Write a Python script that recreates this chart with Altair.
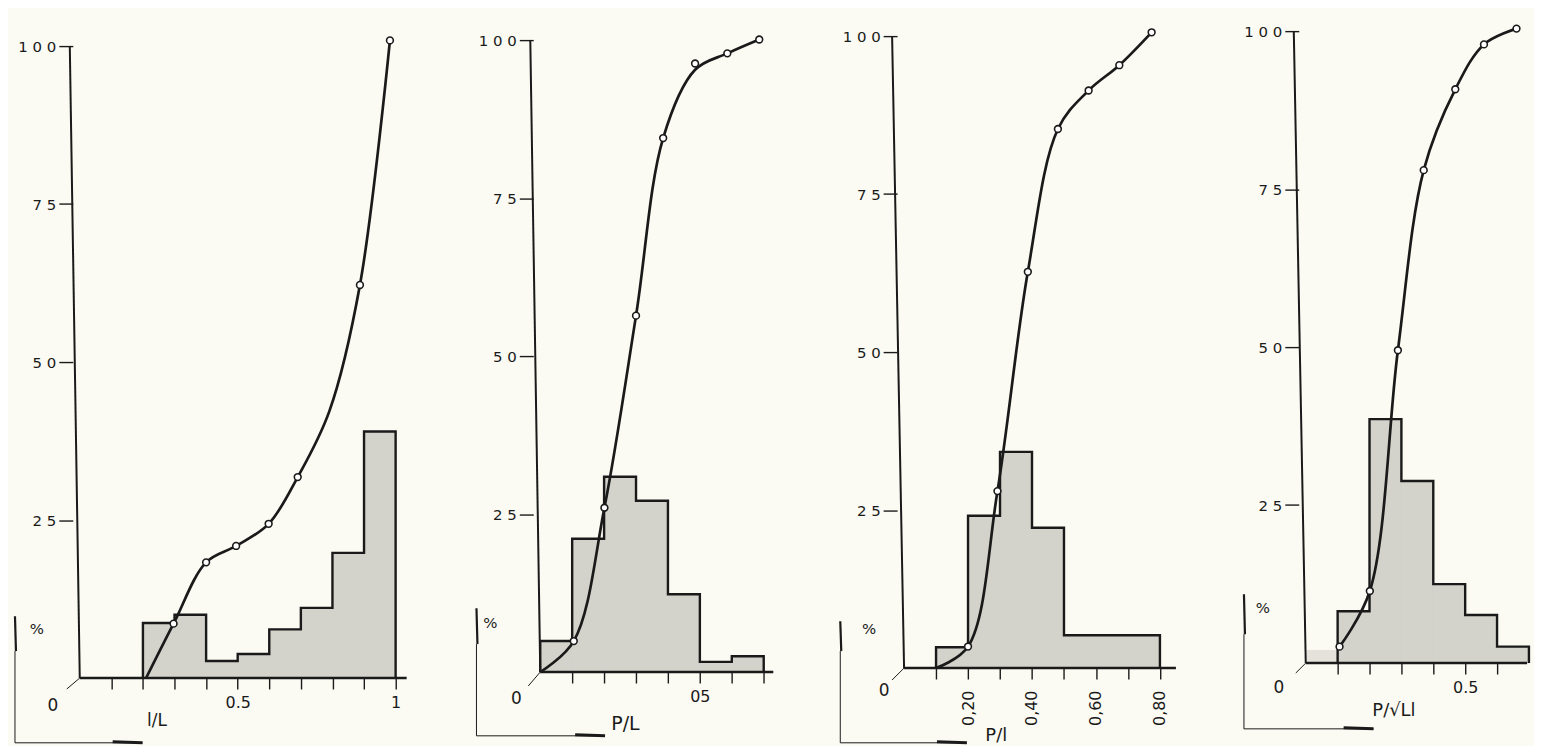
import altair as alt
import pandas as pd

BG = "#fbfbf3"
INK = "#1a1a1a"
HATCH = "#d3d3cc"
STIPPLE = "#e4e2da"
FONT = "DejaVu Sans"

# ---------------- data ----------------
# Panel 1 : l/L
p1_edges = [0.2, 0.3, 0.4, 0.5, 0.6, 0.7, 0.8, 0.9, 1.0]
p1_heights = [8.7, 10.0, 2.7, 3.8, 7.7, 11.1, 19.8, 39.0]
p1_curve_x = [0.21, 0.297, 0.40, 0.495, 0.598, 0.69, 0.79, 0.887, 0.982]
p1_curve_y = [0.0, 8.6, 18.3, 20.9, 24.4, 31.8, 42.2, 62.2, 100.9]
p1_marker = [0, 1, 1, 1, 1, 1, 0, 1, 1]
p1_ticks = [0.1, 0.2, 0.3, 0.4, 0.5, 0.6, 0.7, 0.8, 0.9, 1.0]
p1_labels = {0.5: "0.5", 1.0: "1"}

# Panel 2 : P/L
p2_edges = [0.0, 0.1, 0.2, 0.3, 0.4, 0.5, 0.6, 0.7]
p2_heights = [4.9, 21.1, 30.9, 27.1, 12.3, 1.6, 2.5]
p2_curve_x = [0.0, 0.105, 0.201, 0.30, 0.385, 0.485, 0.586, 0.686]
p2_curve_y = [0.0, 4.9, 26.0, 56.4, 84.5, 95.3, 97.9, 100.1]
p2_point_y = [0.0, 4.9, 26.0, 56.4, 84.5, 96.3, 97.9, 100.1]
p2_marker = [0, 1, 1, 1, 1, 1, 1, 1]
p2_ticks = [0.1, 0.2, 0.3, 0.4, 0.5, 0.6, 0.7]
p2_labels = {0.5: "05"}

# Panel 3 : P/l
p3_edges = [0.1, 0.2, 0.3, 0.4, 0.5, 0.8]
p3_heights = [3.3, 24.1, 34.2, 22.2, 5.2]
p3_curve_x = [0.1, 0.2, 0.292, 0.387, 0.481, 0.577, 0.673, 0.774]
p3_curve_y = [0.0, 3.4, 28.0, 62.7, 85.3, 91.4, 95.4, 100.6]
p3_marker = [0, 1, 1, 1, 1, 1, 1, 1]
p3_ticks = [0.1, 0.2, 0.3, 0.4, 0.5, 0.6, 0.7, 0.8]
p3_labels = {0.2: "0,20", 0.4: "0,40", 0.6: "0,60", 0.8: "0,80"}

# Panel 4 : P/sqrt(Ll)
p4_stipple_edges = [0.0, 0.1]
p4_stipple_heights = [2.0]
p4_edges = [0.1, 0.2, 0.3, 0.4, 0.5, 0.6, 0.7]
p4_heights = [8.2, 38.6, 28.8, 12.5, 7.6, 2.6]
p4_curve_x = [0.106, 0.201, 0.289, 0.37, 0.469, 0.559, 0.661]
p4_curve_y = [2.6, 11.4, 49.5, 78.0, 90.8, 97.9, 100.4]
p4_marker = [1, 1, 1, 1, 1, 1, 1]
p4_ticks = [0.1, 0.2, 0.3, 0.4, 0.5, 0.6, 0.7]
p4_labels = {0.5: "0.5"}

y_ticks = [25, 50, 75, 100]
y_labels = {25: "2 5", 50: "5 0", 75: "7 5", 100: "1 0 0"}

# ---------------- layout / style ----------------
FRAME_H = 657          # plot frame height (px)
PX = 6.34              # px per percent unit

PANELS = [
    dict(edges=p1_edges, heights=p1_heights, cx=p1_curve_x, cy=p1_curve_y, py=p1_curve_y,
         mk=p1_marker, ticks=p1_ticks, labels=p1_labels, xmax=1.054, width=334, xline=1.035,
         base_off=0, slant=10, title="l/L", title_x=77, title_y=43, title_size=17, angle=0,
         lpad=6, pct=(-43, 608), stroke_x=-65, stroke_y=(595, 630), brk_y=722, brk_x2=63,
         diag=(-13, 11), zero=(-27, 685)),
    dict(edges=p2_edges, heights=p2_heights, cx=p2_curve_x, cy=p2_curve_y, py=p2_point_y,
         mk=p2_marker, ticks=p2_ticks, labels=p2_labels, xmax=0.74, width=237, xline=0.73,
         base_off=6, slant=10, title="P/L", title_x=85, title_y=52, title_size=19, angle=0,
         lpad=6, pct=(-50, 602), stroke_x=-64, stroke_y=(587, 623), brk_y=715, brk_x2=65,
         diag=(-12, 14), zero=(-24, 678)),
    dict(edges=p3_edges, heights=p3_heights, cx=p3_curve_x, cy=p3_curve_y, py=p3_curve_y,
         mk=p3_marker, ticks=p3_ticks, labels=p3_labels, xmax=0.857, width=275, xline=0.85,
         base_off=10, slant=12, title="P/l", title_x=92, title_y=68, title_size=18, angle=270,
         lpad=11, pct=(-35, 608), stroke_x=-64, stroke_y=(600, 630), brk_y=722, brk_x2=63,
         diag=(-12, 12), zero=(-20, 670)),
    dict(edges=p4_edges, heights=p4_heights, cx=p4_curve_x, cy=p4_curve_y, py=p4_curve_y,
         mk=p4_marker, ticks=p4_ticks, labels=p4_labels, xmax=0.694, width=222, xline=0.694,
         base_off=15, slant=12, title="P/√Ll", title_x=88, title_y=48, title_size=18, angle=0,
         lpad=6, pct=(-43, 587), stroke_x=-62, stroke_y=(573, 613), brk_y=708, brk_x2=68,
         diag=(-10, 10), zero=(-27, 667),
         st_edges=p4_stipple_edges, st_heights=p4_stipple_heights),
]


def label_expr(d):
    expr = "''"
    for v, s in reversed(list(d.items())):
        expr = f"abs(datum.value - {v}) < 0.001 ? '{s}' : {expr}"
    return expr


def one(text=""):
    return pd.DataFrame({"t": [text]})


def build(p):
    ymin = -p["base_off"] / PX
    ymax = ymin + FRAME_H / PX
    base_px = FRAME_H - p["base_off"]
    xs = alt.Scale(domain=[0, p["xmax"]], nice=False, zero=False)
    ys = alt.Scale(domain=[ymin, ymax], nice=False, zero=False)
    xaxis = alt.Axis(
        values=p["ticks"], labelExpr=label_expr(p["labels"]), domain=False, grid=False,
        tickSize=11, tickWidth=1.4, tickColor=INK, offset=-p["base_off"],
        labelPadding=p["lpad"], labelAngle=p["angle"], labelFlush=False, labelOverlap=False,
        labelFontSize=16, labelColor=INK, labelFont=FONT,
        title=p["title"], titleX=p["title_x"], titleY=p["title_y"], titleAlign="center",
        titleBaseline="middle", titleFontSize=p["title_size"], titleFontWeight="normal",
        titleColor=INK, titleFont=FONT, titlePadding=0,
    )
    yaxis = alt.Axis(
        values=y_ticks, labelExpr=label_expr(y_labels), domain=False, grid=False,
        tickSize=14, tickWidth=1.4, tickColor=INK, offset=7, labelPadding=3,
        labelFontSize=15, labelColor=INK, labelFont=FONT, title=None,
        minExtent=65, maxExtent=65,
    )

    def X(f):
        return alt.X(f, type="quantitative", scale=xs, axis=xaxis)

    def Y(f):
        return alt.Y(f, type="quantitative", scale=ys, axis=yaxis)

    layers = []
    e, h = p["edges"], p["heights"]
    bars = pd.DataFrame({"x0": e[:-1], "x1": e[1:], "y0": [0] * len(h), "h": h})
    layers.append(alt.Chart(bars).mark_rect(fill=HATCH, stroke=HATCH, strokeWidth=1).encode(
        x=X("x0"), x2="x1", y=Y("y0"), y2="h"))
    if "st_edges" in p:
        se, sh = p["st_edges"], p["st_heights"]
        sb = pd.DataFrame({"x0": se[:-1], "x1": se[1:], "y0": [0] * len(sh), "h": sh})
        layers.append(alt.Chart(sb).mark_rect(fill=STIPPLE, stroke=STIPPLE, strokeWidth=1).encode(
            x=X("x0"), x2="x1", y=Y("y0"), y2="h"))
    # step outline of the histogram
    ox = [e[0]] + e[:-1] + [e[-1], e[-1]]
    oy = [0] + h + [h[-1], 0]
    outline = pd.DataFrame({"x": ox, "y": oy, "i": list(range(len(ox)))})
    layers.append(alt.Chart(outline).mark_line(
        interpolate="step-after", color=INK, strokeWidth=2.4).encode(
        x=X("x"), y=Y("y"), order="i:Q"))
    # axis lines
    ya = pd.DataFrame({"x": [0], "y": [0], "y2": [100]})
    layers.append(alt.Chart(ya).mark_rule(color=INK, strokeWidth=2).encode(
        x=X("x"), y=Y("y"), x2=alt.value(-p["slant"]), y2="y2"))
    xa = pd.DataFrame({"x": [0], "x2": [p["xline"]], "y": [0]})
    layers.append(alt.Chart(xa).mark_rule(color=INK, strokeWidth=2.4).encode(
        x=X("x"), x2="x2", y=Y("y")))
    dg = pd.DataFrame({"x": [0], "y": [0]})
    layers.append(alt.Chart(dg).mark_rule(color=INK, strokeWidth=1).encode(
        x=X("x"), y=Y("y"), x2=alt.value(p["diag"][0]), y2=alt.value(base_px + p["diag"][1])))
    # cumulative curve and its points
    cv = pd.DataFrame({"x": p["cx"], "y": p["cy"]})
    layers.append(alt.Chart(cv).mark_line(
        interpolate="catmull-rom", color=INK, strokeWidth=2.7).encode(x=X("x"), y=Y("y")))
    pts = pd.DataFrame({"x": p["cx"], "y": p["py"], "m": p["mk"]})
    layers.append(alt.Chart(pts).transform_filter("datum.m == 1").mark_point(
        shape="circle", filled=True, fill="white", stroke=INK, strokeWidth=1.6,
        size=46, opacity=1).encode(x=X("x"), y=Y("y")))
    # decorations: "0", "%", bracket with arrow
    layers.append(alt.Chart(one("0")).mark_text(
        fontSize=17, color=INK, font=FONT).encode(
        x=alt.value(p["zero"][0]), y=alt.value(p["zero"][1]), text="t:N"))
    layers.append(alt.Chart(one("%")).mark_text(
        fontSize=15, color=INK, font=FONT).encode(
        x=alt.value(p["pct"][0]), y=alt.value(p["pct"][1]), text="t:N"))
    sx = p["stroke_x"]
    layers.append(alt.Chart(one()).mark_rule(color=INK, strokeWidth=2.2).encode(
        x=alt.value(sx), x2=alt.value(sx + 1),
        y=alt.value(p["stroke_y"][0]), y2=alt.value(p["stroke_y"][1])))
    layers.append(alt.Chart(one()).mark_rule(color=INK, strokeWidth=1).encode(
        x=alt.value(sx), x2=alt.value(sx),
        y=alt.value(p["stroke_y"][1]), y2=alt.value(p["brk_y"])))
    layers.append(alt.Chart(one()).mark_rule(color=INK, strokeWidth=1).encode(
        x=alt.value(sx), x2=alt.value(p["brk_x2"]),
        y=alt.value(p["brk_y"]), y2=alt.value(p["brk_y"])))
    layers.append(alt.Chart(one()).mark_rule(color=INK, strokeWidth=3).encode(
        x=alt.value(p["brk_x2"] - 30), x2=alt.value(p["brk_x2"]),
        y=alt.value(p["brk_y"] - 1), y2=alt.value(p["brk_y"])))
    return alt.layer(*layers).properties(width=p["width"], height=FRAME_H)


chart = alt.hconcat(*[build(p) for p in PANELS], spacing=128, bounds="flush").properties(
    padding={"left": 0, "top": 12, "right": 0, "bottom": 0},
    background=BG,
).configure(font=FONT).configure_view(stroke=None, fill=BG)

chart.save("out.html", embed_options={"renderer": "svg", "actions": False})
